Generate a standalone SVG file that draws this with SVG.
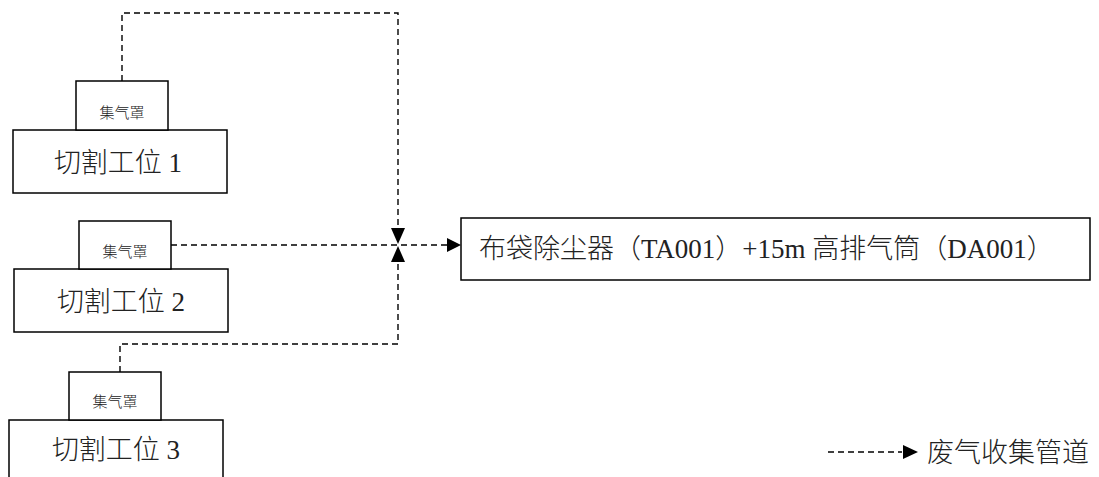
<svg xmlns="http://www.w3.org/2000/svg" width="1099" height="477" viewBox="0 0 1099 477">
<style>
.box{fill:#fff;stroke:#000;stroke-width:1.5}
.big{font-family:"Liberation Serif","Noto Sans CJK SC",serif;font-size:27px;font-weight:300;fill:#222}
.small{font-family:"Liberation Serif","Noto Sans CJK SC",serif;font-size:15px;font-weight:300;fill:#222;text-anchor:middle}
.pipe{fill:none;stroke:#000;stroke-width:1.4;stroke-dasharray:6,4}
.ah{fill:#000}
</style>
<rect width="1099" height="477" fill="#fff"/>
<g id="connectors">
<polyline class="pipe" points="122,81 122,13 398,13 398,230"/>
<polyline class="pipe" points="171,245 448,245"/>
<polyline class="pipe" points="120,372 120,344 398,344 398,260"/>
<polygon class="ah" points="391,228 405,228 398,244"/>
<polygon class="ah" points="391,262 405,262 398,246"/>
<polygon class="ah" points="447,238 447,252 461,245"/>
</g>
<g id="station1">
<rect class="box" x="13" y="130" width="214" height="63"/>
<text class="big" x="118" y="172" text-anchor="middle">切割工位 1</text>
</g>
<g id="hood1">
<rect class="box" x="76" y="81" width="92" height="49"/>
<text class="small" x="122" y="118">集气罩</text>
</g>
<g id="station2">
<rect class="box" x="14" y="269" width="214" height="63"/>
<text class="big" x="121" y="311" text-anchor="middle">切割工位 2</text>
</g>
<g id="hood2">
<rect class="box" x="79" y="221" width="92" height="48"/>
<text class="small" x="125" y="257">集气罩</text>
</g>
<g id="station3">
<rect class="box" x="9" y="420" width="214" height="70"/>
<text class="big" x="116" y="459" text-anchor="middle">切割工位 3</text>
</g>
<g id="hood3">
<rect class="box" x="69" y="372" width="92" height="48"/>
<text class="small" x="115" y="407">集气罩</text>
</g>
<g id="collector">
<rect class="box" x="461" y="218" width="629" height="62"/>
<text class="big" x="479" y="258">布袋除尘器（TA001）+15m 高排气筒（DA001）</text>
</g>
<g id="legend">
<line class="pipe" x1="828" y1="452" x2="902" y2="452"/>
<polygon class="ah" points="903,445 903,459 918,452"/>
<text class="big" x="927" y="462">废气收集管道</text>
</g>
</svg>
